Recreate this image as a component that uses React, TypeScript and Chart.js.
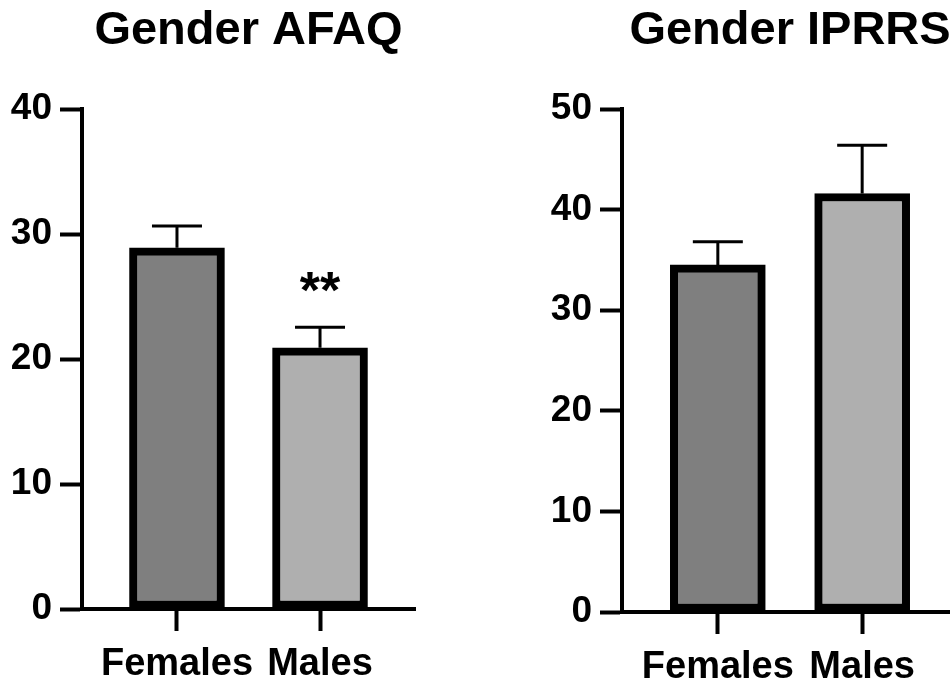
import React, { useEffect, useRef } from 'react';
import { Chart, registerables } from 'chart.js';

Chart.register(...registerables);

// ---- data ----
const categories = ['Females', 'Males'];

const afaqTitle = 'Gender AFAQ';
const afaqMeans = [28.9, 20.9];
const afaqSems = [1.75, 1.65];
const afaqMarks = ['', '**'];
const afaqTicks = [0, 10, 20, 30, 40];

const iprrsTitle = 'Gender IPRRS';
const iprrsMeans = [34.5, 41.6];
const iprrsSems = [2.3, 4.8];
const iprrsMarks = ['', ''];
const iprrsTicks = [0, 10, 20, 30, 40, 50];

const barColors = ['#7f7f7f', '#afafaf'];

const FONT = '"Liberation Sans", Arial, Helvetica, sans-serif';

const errorBarPlugin = {
  id: 'errorBars',
  afterDatasetsDraw(chart: any, _args: any, opts: any) {
    const { ctx } = chart;
    const meta = chart.getDatasetMeta(0);
    const yScale = chart.scales.y;
    ctx.save();
    ctx.strokeStyle = '#000';
    ctx.lineWidth = 3;
    meta.data.forEach((bar: any, i: number) => {
      const top = yScale.getPixelForValue(opts.means[i]);
      const cap = yScale.getPixelForValue(opts.means[i] + opts.sems[i]);
      const x = bar.x;
      ctx.beginPath();
      ctx.moveTo(x, top);
      ctx.lineTo(x, cap);
      ctx.moveTo(x - 25, cap);
      ctx.lineTo(x + 25, cap);
      ctx.stroke();
      const mark = opts.marks[i];
      if (mark) {
        const size = 52;
        ctx.fillStyle = '#000';
        ctx.font = `bold ${size}px ${FONT}`;
        ctx.textAlign = 'center';
        ctx.textBaseline = 'alphabetic';
        ctx.fillText(mark, x, cap - 48 + 0.56 * size);
      }
    });
    ctx.restore();
  },
};

function makeConfig(p: any): any {
  const axisGrid = {
    drawOnChartArea: false,
    drawTicks: true,
    tickLength: 22,
    tickWidth: 4,
    tickColor: '#000',
    offset: false,
  };
  const axisBorder = { display: true, color: '#000', width: 4 };
  return {
    type: 'bar',
    data: {
      datasets: [
        {
          data: p.means.map((m: number, i: number) => ({ x: i, y: m })),
          backgroundColor: barColors,
          borderColor: '#000',
          borderWidth: 8,
          borderSkipped: false,
          barThickness: 95,
        },
      ],
    },
    options: {
      responsive: false,
      animation: false,
      devicePixelRatio: 1,
      layout: { padding: { left: 0, right: p.padRight, top: 0, bottom: 0 } },
      plugins: {
        legend: { display: false },
        tooltip: { enabled: false },
        title: {
          display: true,
          text: p.title,
          fullSize: false,
          color: '#000',
          font: { family: FONT, size: 47, weight: 'bold', lineHeight: 1.2 },
          padding: { top: 3, bottom: 49.6 },
        },
        errorBars: { means: p.means, sems: p.sems, marks: p.marks },
      },
      scales: {
        x: {
          type: 'linear',
          offset: false,
          bounds: 'data',
          min: -0.664,
          max: 1.664,
          afterBuildTicks: (s: any) => {
            s.ticks = categories.map((_, i) => ({ value: i }));
          },
          afterFit: (s: any) => {
            s.height = p.xHeight;
          },
          ticks: {
            callback: (v: any) => categories[v] ?? '',
            color: '#000',
            font: { family: FONT, size: 38, weight: 'bold' },
            padding: 11,
            maxRotation: 0,
            autoSkip: false,
          },
          grid: axisGrid,
          border: axisBorder,
        },
        y: {
          min: 0,
          max: p.max,
          afterBuildTicks: (s: any) => {
            s.ticks = p.ticks.map((v: number) => ({ value: v }));
          },
          afterFit: (s: any) => {
            s.width = p.yWidth;
          },
          ticks: {
            color: '#000',
            font: { family: FONT, size: 37, weight: 'bold' },
            padding: 8,
          },
          grid: axisGrid,
          border: axisBorder,
        },
      },
    },
    plugins: [errorBarPlugin],
  };
}

function Panel({ cfg, left, width }: { cfg: any; left: number; width: number }) {
  const ref = useRef<HTMLCanvasElement | null>(null);
  useEffect(() => {
    const chart = new Chart(ref.current as HTMLCanvasElement, makeConfig(cfg));
    return () => chart.destroy();
  }, []);
  return (
    <canvas
      ref={ref}
      width={width}
      height={681}
      style={{ position: 'absolute', left, top: 0, width, height: 681 }}
    />
  );
}

export default function App() {
  const afaq = {
    title: afaqTitle,
    means: afaqMeans,
    sems: afaqSems,
    marks: afaqMarks,
    ticks: afaqTicks,
    max: 40,
    yWidth: 82,
    padRight: 65,
    xHeight: 72,
  };
  const iprrs = {
    title: iprrsTitle,
    means: iprrsMeans,
    sems: iprrsSems,
    marks: iprrsMarks,
    ticks: iprrsTicks,
    max: 50,
    yWidth: 142,
    padRight: 42,
    xHeight: 69,
  };
  return (
    <div
      style={{
        position: 'fixed',
        left: 0,
        top: 0,
        width: 950,
        height: 681,
        overflow: 'hidden',
        background: '#fff',
      }}
    >
      <Panel cfg={afaq} left={0} width={480} />
      <Panel cfg={iprrs} left={480} width={520} />
    </div>
  );
}
